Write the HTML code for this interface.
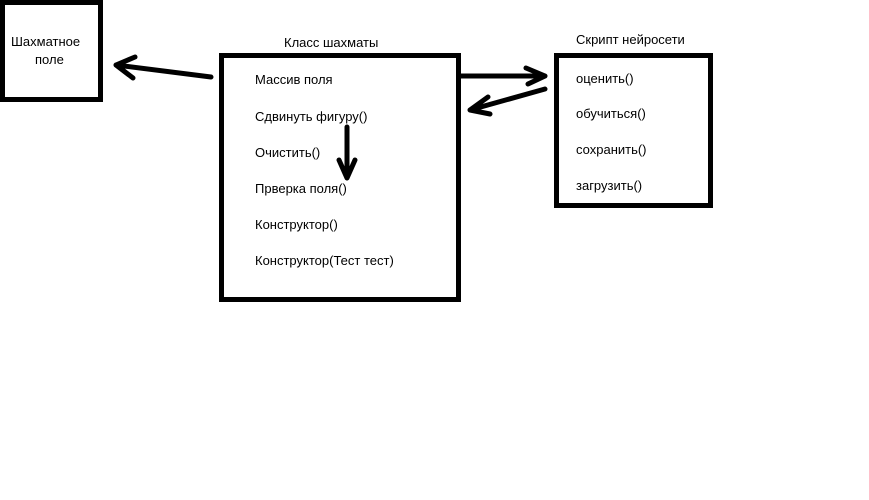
<!DOCTYPE html>
<html><head><meta charset="utf-8"><style>
html,body{margin:0;padding:0;background:#fff;}
body{width:869px;height:500px;position:relative;overflow:hidden;font-family:"Liberation Sans","DejaVu Sans",sans-serif;font-size:13px;color:#000;}
.b{position:absolute;box-sizing:border-box;border:5px solid #000;background:#fff;}
.t{position:absolute;white-space:nowrap;line-height:16px;}
svg{position:absolute;left:0;top:0;}
</style></head><body>
<div class="b" style="left:0;top:0;width:103px;height:102px;"></div>
<div class="t" style="left:11px;top:34px;">Шахматное</div>
<div class="t" style="left:35px;top:52px;">поле</div>

<div class="t" style="left:284px;top:35px;">Класс шахматы</div>
<div class="b" style="left:219px;top:53px;width:242px;height:249px;"></div>
<div class="t" style="left:255px;top:72px;">Массив поля</div>
<div class="t" style="left:255px;top:109px;">Сдвинуть фигуру()</div>
<div class="t" style="left:255px;top:145px;">Очистить()</div>
<div class="t" style="left:255px;top:181px;">Прверка поля()</div>
<div class="t" style="left:255px;top:217px;">Конструктор()</div>
<div class="t" style="left:255px;top:253px;">Конструктор(Тест тест)</div>

<div class="t" style="left:576px;top:32px;">Скрипт нейросети</div>
<div class="b" style="left:554px;top:53px;width:159px;height:155px;"></div>
<div class="t" style="left:576px;top:71px;">оценить()</div>
<div class="t" style="left:576px;top:106px;">обучиться()</div>
<div class="t" style="left:576px;top:142px;">сохранить()</div>
<div class="t" style="left:576px;top:178px;">загрузить()</div>

<svg width="869" height="500" fill="none" stroke="#000" stroke-width="5" stroke-linecap="round" stroke-linejoin="round">
<path d="M211 77 L116 65 M116 65 L135 57 M116 65 L133 78"/>
<path d="M461 76 L545 76 M545 76 L526 68 M545 76 L528 84"/>
<path d="M545 89 L470 110 M470 110 L488 97 M470 110 L490 114"/>
<path d="M347 127 L347 178 M347 178 L339 160 M347 178 L355 160"/>
</svg>
</body></html>
